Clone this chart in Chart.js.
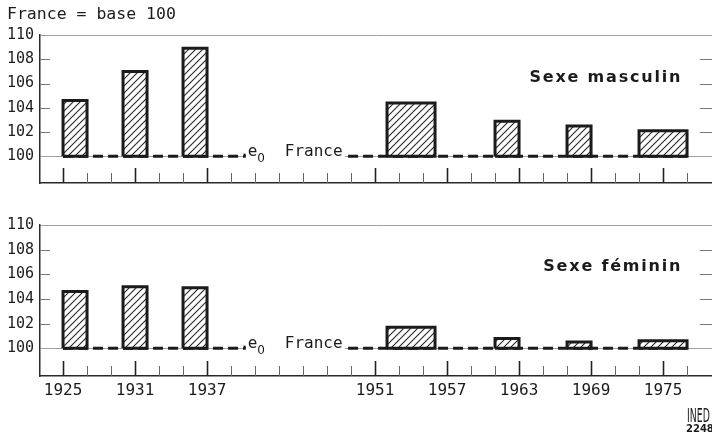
<!DOCTYPE html>
<html>
<head>
<meta charset="utf-8">
<title>Espérance de vie à la naissance - France = base 100</title>
<script src="https://cdn.jsdelivr.net/npm/chart.js"></script>
<style>
  body { margin: 0; background: #fff; }
  #wrap { position: relative; width: 712px; height: 439px; background: #fff; }
  #wrap canvas { position: absolute; left: 0; }
</style>
</head>
<body>
<div id="wrap">
  <canvas id="hommes" width="712" height="200" style="top:0"></canvas>
  <canvas id="femmes" width="712" height="239" style="top:200px"></canvas>
</div>

<script>
// périodes des tables (début, fin) et indices France = 100
const periodes = [[1925, 1927], [1930, 1932], [1935, 1937], [1952, 1956], [1961, 1963], [1967, 1969], [1973, 1977]];
const hommes = [104.6, 107.0, 108.9, 104.4, 102.9, 102.5, 102.1];
const femmes = [104.6, 105.0, 104.9, 101.7, 100.8, 100.5, 100.6];

// graduations
const graduationsY = [100, 102, 104, 106, 108, 110];
const graduationsX = [1925, 1927, 1929, 1931, 1933, 1935, 1937, 1939, 1941, 1943, 1945, 1947, 1949, 1951,
                      1953, 1955, 1957, 1959, 1961, 1963, 1965, 1967, 1969, 1971, 1973, 1975, 1977];
const anneesEtiquetees = [1925, 1931, 1937, 1951, 1957, 1963, 1969, 1975];

const encre = '#1b1b1b';
const mono = '"DejaVu Sans Mono", monospace';

// motif hachuré des barres
function hachures() {
  const c = document.createElement('canvas');
  c.width = 7; c.height = 7;
  const g = c.getContext('2d');
  g.fillStyle = '#fff';
  g.fillRect(0, 0, 7, 7);
  g.strokeStyle = '#262626';
  g.lineWidth = 1.1;
  g.beginPath();
  g.moveTo(-1, 8); g.lineTo(8, -1);
  g.moveTo(-1, 1); g.lineTo(1, -1);
  g.moveTo(6, 8); g.lineTo(8, 6);
  g.stroke();
  return g.createPattern(c, 'repeat');
}
const motif = hachures();

// chaque barre = rectangle fermé entre 100 et la valeur
function barres(valeurs) {
  return periodes.map(([a, b], i) => ({
    data: [{x: a, y: 100}, {x: a, y: valeurs[i]}, {x: b, y: valeurs[i]}, {x: b, y: 100}, {x: a, y: 100}],
    showLine: true,
    fill: 'shape',
    backgroundColor: motif,
    borderColor: encre,
    borderWidth: 3,
    borderJoinStyle: 'miter',
    pointRadius: 0,
    order: 0
  }));
}

// ligne tiretée e0 France
function ligneFrance() {
  return {
    data: [{x: periodes[0][0], y: 100}, {x: periodes[periodes.length - 1][1], y: 100}],
    showLine: true,
    fill: false,
    borderColor: encre,
    borderWidth: 3,
    borderDash: [10, 5],
    pointRadius: 0,
    order: 1
  };
}

// petites graduations tracées vers l'intérieur du cadre
const graduationsInternes = {
  id: 'graduationsInternes',
  afterDatasetsDraw(chart) {
    const {ctx, chartArea: a, scales: {x, y}} = chart;
    ctx.save();
    graduationsX.forEach(v => {
      const px = Math.round(x.getPixelForValue(v)) + 0.5;
      const grand = anneesEtiquetees.includes(v);
      ctx.strokeStyle = grand ? '#222' : '#666';
      ctx.lineWidth = grand ? 1.6 : 1;
      ctx.beginPath();
      ctx.moveTo(px, a.bottom);
      ctx.lineTo(px, a.bottom - (grand ? 15 : 10));
      ctx.stroke();
    });
    ctx.strokeStyle = '#777';
    ctx.lineWidth = 1;
    graduationsY.filter(v => v > 100 && v < 110).forEach(v => {
      const py = Math.round(y.getPixelForValue(v)) + 0.5;
      ctx.beginPath();
      ctx.moveTo(a.left, py); ctx.lineTo(a.left + 10, py);
      ctx.moveTo(a.right - 12, py); ctx.lineTo(a.right, py);
      ctx.stroke();
    });
    ctx.restore();
  }
};

// textes : e0 France, titre du panneau, en-tête, sigle
function textes(titre, titreY, entete, sigle) {
  return {
    id: 'textes',
    afterDatasetsDraw(chart) {
      const {ctx, scales: {x, y}} = chart;
      ctx.save();
      const px = x.getPixelForValue(1940.4);
      const py = y.getPixelForValue(100);
      ctx.fillStyle = '#fff';
      ctx.fillRect(px - 2, py - 15, 99, 24);
      ctx.fillStyle = encre;
      ctx.textBaseline = 'alphabetic';
      ctx.textAlign = 'left';
      ctx.font = '16px ' + mono;
      ctx.fillText('.', px - 8, py);
      ctx.fillText('e', px, py);
      ctx.font = '12px "DejaVu Sans"';
      ctx.fillText('0', px + 9.5, py + 6);
      ctx.font = '16px ' + mono;
      ctx.fillText('France', px + 37, py);

      ctx.font = 'bold 16px "DejaVu Sans"';
      ctx.letterSpacing = '1.8px';
      ctx.textAlign = 'right';
      ctx.textBaseline = 'middle';
      ctx.fillText(titre, x.getPixelForValue(1976.6), y.getPixelForValue(titreY));
      ctx.letterSpacing = '0px';

      if (entete) {
        ctx.textAlign = 'left';
        ctx.font = '16.5px ' + mono;
        ctx.fillText(entete, 7, 15);
      }
      if (sigle) {
        ctx.textAlign = 'left';
        ctx.textBaseline = 'alphabetic';
        ctx.save();
        ctx.translate(687, 222);
        ctx.scale(0.85, 1.7);
        ctx.font = '11px "DejaVu Sans"';
        ctx.fillText(sigle[0], 0, 0);
        ctx.restore();
        ctx.font = 'bold 10px "DejaVu Sans"';
        ctx.fillText(sigle[1], 686, 232);
      }
      ctx.restore();
    }
  };
}

function options(ymin, afficherAnnees, hauteurX, padding) {
  return {
    responsive: false,
    animation: false,
    events: [],
    layout: {padding: padding},
    plugins: {legend: {display: false}, tooltip: {enabled: false}},
    scales: {
      x: {
        type: 'linear',
        min: 1923.08,
        max: 1979.08,
        afterBuildTicks: s => { s.ticks = graduationsX.map(v => ({value: v})); },
        afterFit: s => { s.height = hauteurX; },
        grid: {display: false, drawTicks: false},
        border: {display: true, color: '#2a2a2a', width: 1.5},
        ticks: {
          display: afficherAnnees,
          autoSkip: false,
          maxRotation: 0,
          padding: 5,
          color: encre,
          font: {family: mono, size: 16},
          callback: v => anneesEtiquetees.includes(v) ? String(v) : ''
        }
      },
      y: {
        min: ymin,
        max: 110,
        afterBuildTicks: s => { s.ticks = graduationsY.map(v => ({value: v})); },
        afterFit: s => { s.width = 40; },
        grid: {
          drawTicks: false,
          lineWidth: 1,
          color: c => (c.tick && (c.tick.value === 100 || c.tick.value === 110)) ? '#a0a0a0' : 'rgba(0,0,0,0)'
        },
        border: {color: '#2a2a2a', width: 1.5},
        ticks: {padding: 6, color: encre, font: {family: mono, size: 15}}
      }
    }
  };
}

new Chart(document.getElementById('hommes'), {
  type: 'scatter',
  data: {datasets: [...barres(hommes), ligneFrance()]},
  options: options(97.8, false, 0, {top: 35, bottom: 17, left: 0, right: 0}),
  plugins: [graduationsInternes, textes('Sexe masculin', 106.45, 'France = base 100', null)]
});

new Chart(document.getElementById('femmes'), {
  type: 'scatter',
  data: {datasets: [...barres(femmes), ligneFrance()]},
  options: options(97.75, true, 63, {top: 25, bottom: 0, left: 0, right: 0}),
  plugins: [graduationsInternes, textes('Sexe féminin', 106.6, null, ['INED', '2248'])]
});
</script>
</body>
</html>
